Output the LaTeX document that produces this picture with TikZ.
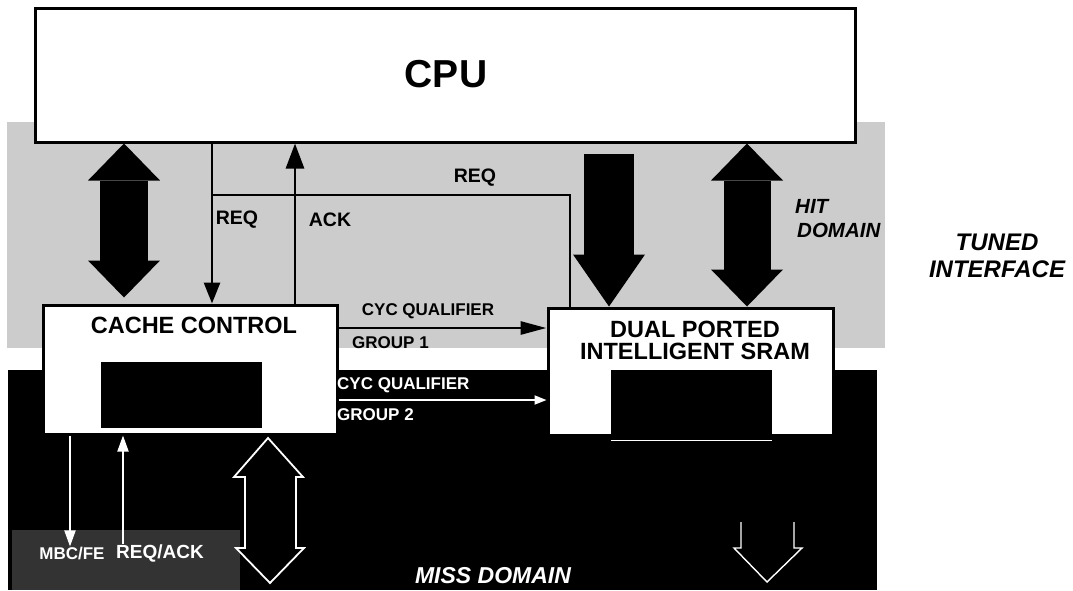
\documentclass[tikz,border=0pt]{standalone}
\usepackage{fontspec}
\setmainfont{Liberation Sans}
\usetikzlibrary{arrows.meta,calc}
\begin{document}
\begin{tikzpicture}[x=1pt,y=-1pt,
  box/.style={draw=black,line width=3pt,fill=white,inner sep=0pt},
  inner/.style={fill=black,draw=none,inner sep=0pt},
  conn/.style={draw=black,line width=2.8pt},
  ghost/.style={draw=white,line width=1.8pt},
  lbl/.style={font=\bfseries\fontsize{19.5}{21}\selectfont,inner sep=0pt},
  slbl/.style={font=\bfseries\fontsize{17}{19}\selectfont,inner sep=0pt},
  glbl/.style={font=\bfseries\fontsize{17}{19}\selectfont,inner sep=0pt,text=white},
  ilbl/.style={font=\bfseries\itshape\fontsize{20.5}{22}\selectfont,inner sep=0pt},
  BigTriA/.tip={Triangle[width=72pt,length=37pt,line width'=0pt]},
  BigTriB/.tip={Triangle[width=72pt,length=52pt,line width'=0pt]},
]
\useasboundingbox (0,0) rectangle (1073,590);
% background domains
\fill[black!20] (7,122) rectangle (885,348);
\fill[black] (8,370) rectangle (877,590);
\fill[black!80] (12,530) rectangle (240,590);

% helper x positions
\coordinate (xl) at (124,0);
\coordinate (xreq) at (212,0);
\coordinate (xack) at (295,0);
\coordinate (xsr) at (570,0);
\coordinate (xm) at (609,0);
\coordinate (xr) at (747,0);
\coordinate (xg1) at (70,0);
\coordinate (xg2) at (123,0);
\coordinate (jn) at (212,195);

% boxes
\node[box,minimum width=820pt,minimum height=134pt] (cpu) at (445,75) {};
\node[font=\bfseries\fontsize{39}{41}\selectfont,inner sep=0pt] (cpulbl) at (446,74) {CPU};
\node[box,minimum width=294pt,minimum height=129pt] (cache) at (190,369.5) {};
\node[box,minimum width=285pt,minimum height=127pt] (sram) at (690.5,371.5) {};
\node[inner,minimum width=161pt,minimum height=66pt] (cacheblk) at (181.5,395) {};
\node[inner,minimum width=161pt,minimum height=65pt] (sramblk) at (691.5,402.5) {};
\node[font=\bfseries\fontsize{23.5}{25}\selectfont,inner sep=0pt] (cachelbl) at (194,325) {CACHE CONTROL};
\node[font=\bfseries\fontsize{23.5}{22}\selectfont,inner sep=0pt,align=center] (sramlbl) at (695,340) {DUAL PORTED\\INTELLIGENT SRAM};

% big block arrows
\draw[line width=48pt,{BigTriA}-{BigTriA},shorten >=6pt] (xl |- cpu.south) -- (xl |- cache.north);
\draw[line width=50pt,-{BigTriB},shorten <=10pt] (xm |- cpu.south) -- (xm |- sram.north);
\draw[line width=47pt,{BigTriA}-{BigTriA}] (xr |- cpu.south) -- (xr |- sram.north);

% signal lines
\draw[conn,-{Triangle[width=16pt,length=21pt]}] (xreq |- cpu.south) -- (xreq |- cache.north);
\draw[conn,-{Triangle[width=18pt,length=25pt]}] (xack |- cache.north) -- (xack |- cpu.south);
\draw[conn] (jn) -| (xsr |- sram.north);
\draw[conn,-{Triangle[width=13pt,length=26pt]}] (cache.east |- 0,328) -- (sram.west |- 0,328);

% labels tuned domain
\node[lbl] (req1) at (237,220) {REQ};
\node[lbl] (ack) at (330,220) {ACK};
\node[lbl] (req2) at (475,178) {REQ};
\node[slbl] (cyc1) at (428,311) {CYC QUALIFIER};
\node[slbl,anchor=west] (grp1) at (352,343) {GROUP 1};
\node[ilbl,anchor=west] (hit) at (795,206) {HIT};
\node[ilbl,anchor=west] (dom) at (797,230) {DOMAIN};
\node[font=\bfseries\itshape\fontsize{24}{27}\selectfont,inner sep=0pt,align=center] (tuned) at (997,256) {TUNED\\INTERFACE};

% miss domain ghosts
\node[glbl,anchor=west] (cyc2) at (337,385) {CYC QUALIFIER};
\node[glbl,anchor=west] (grp2) at (337,415) {GROUP 2};
\draw[ghost,-{Triangle[width=9pt,length=12pt]}] (cache.east |- 0,400) -- (sram.west |- 0,400);
\draw[ghost,line width=1.2pt] (sramblk.south west) ++(0,5) -- ++(161,0);
\node[font=\bfseries\itshape\fontsize{23}{25}\selectfont,inner sep=0pt,text=white] (miss) at (493,576) {MISS DOMAIN};
\node[glbl,font=\bfseries\fontsize{17}{19}\selectfont] (mbc) at (72,553) {MBC/FE};
\node[glbl,font=\bfseries\fontsize{19}{21}\selectfont] (rqa) at (160,553) {REQ/ACK};
\draw[ghost,-{Triangle[width=11pt,length=16pt]}] (xg1 |- cache.south) -- (xg1 |- mbc.north);
\draw[ghost,-{Triangle[width=11pt,length=16pt]}] (xg2 |- rqa.north) -- (xg2 |- cache.south);

% hollow double arrow (left, in miss domain)
\draw[ghost,line join=miter] (268,438) -- (303,477) -- (296,477) -- (296,548) -- (304,548) -- (270,583)
  -- (236,548) -- (245,548) -- (245,477) -- (234,477) -- cycle;
% hollow arrow (right, partly visible)
\draw[ghost,line width=1.4pt] (741,522) -- (741,548) -- (734,548) -- (767,582) -- (802,548) -- (794,548) -- (794,522);
\end{tikzpicture}
\end{document}
